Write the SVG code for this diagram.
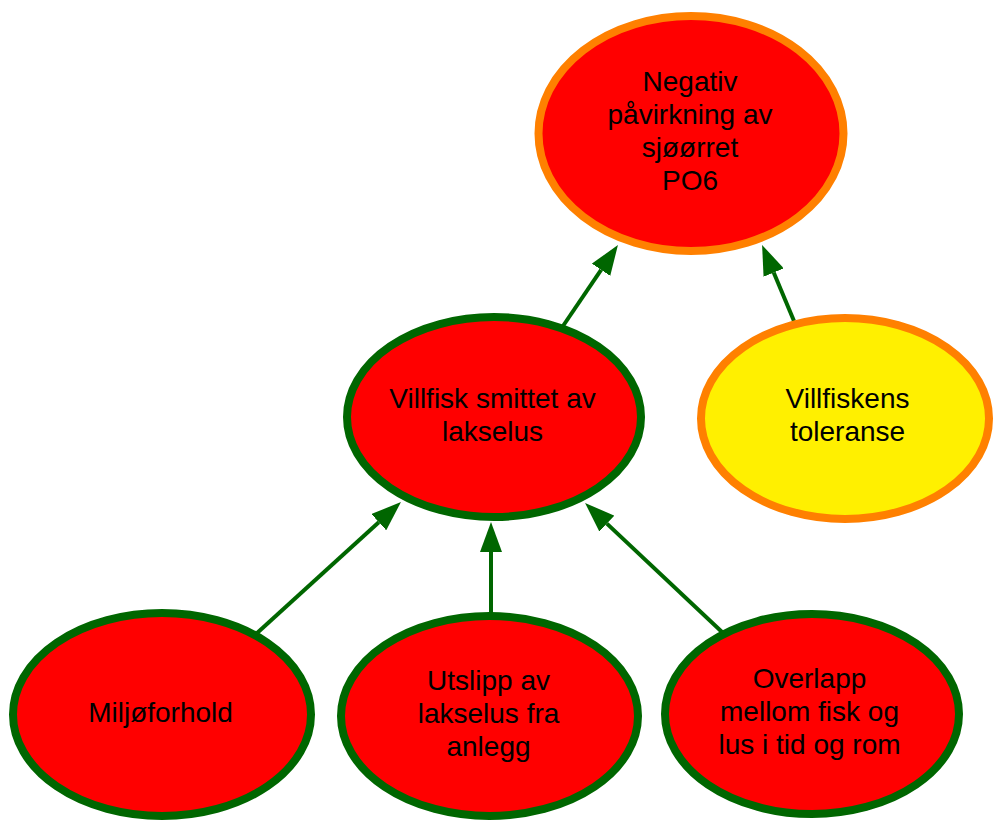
<svg xmlns="http://www.w3.org/2000/svg" width="995" height="821" viewBox="0 0 995 821">
<style>
.lbl{font-family:"Liberation Sans",Arial,sans-serif;font-size:28px;fill:#000;text-anchor:middle}
.red{fill:#FF0000}
.yel{fill:#FFF000}
.og{stroke:#FF8000;stroke-width:8}
.gr{stroke:#006600;stroke-width:8}
.edge{stroke:#006600;stroke-width:4;fill:none;marker-end:url(#ah)}
</style>
<defs>
<marker id="ah" viewBox="0 0 30 22" markerWidth="30" markerHeight="22" refX="0" refY="11" orient="auto" markerUnits="userSpaceOnUse">
<path d="M0,0 L30,11 L0,22 z" fill="#006600"/>
</marker>
</defs>
<rect width="995" height="821" fill="#fff"/>
<g id="connectors">
<line class="edge" x1="563" y1="326" x2="601.1" y2="269.8"/>
<line class="edge" x1="794" y1="321" x2="773.7" y2="272.6"/>
<line class="edge" x1="256" y1="634" x2="378.8" y2="522.2"/>
<line class="edge" x1="491" y1="615" x2="491" y2="552"/>
<line class="edge" x1="722" y1="632" x2="606.9" y2="523.6"/>
</g>
<g id="n_top">
<ellipse class="red og" cx="691" cy="133.5" rx="152.5" ry="117.5"/>
<text class="lbl" x="690" y="91">Negativ</text>
<text class="lbl" x="690" y="124">påvirkning av</text>
<text class="lbl" x="690" y="157">sjøørret</text>
<text class="lbl" x="690" y="190">PO6</text>
</g>
<g id="n_smittet">
<ellipse class="red gr" cx="494" cy="417" rx="147" ry="100"/>
<text class="lbl" x="492.5" y="408">Villfisk smittet av</text>
<text class="lbl" x="492.5" y="441">lakselus</text>
</g>
<g id="n_toleranse">
<ellipse class="yel og" cx="845" cy="418.5" rx="144" ry="100.5"/>
<text class="lbl" x="847.5" y="408">Villfiskens</text>
<text class="lbl" x="847.5" y="441">toleranse</text>
</g>
<g id="n_miljo">
<ellipse class="red gr" cx="162" cy="714.5" rx="149" ry="101.5"/>
<text class="lbl" x="160.5" y="722">Miljøforhold</text>
</g>
<g id="n_utslipp">
<ellipse class="red gr" cx="489.5" cy="716" rx="148.5" ry="100"/>
<text class="lbl" x="488.5" y="690">Utslipp av</text>
<text class="lbl" x="488.5" y="723">lakselus fra</text>
<text class="lbl" x="488.5" y="756">anlegg</text>
</g>
<g id="n_overlapp">
<ellipse class="red gr" cx="812" cy="714" rx="147" ry="100"/>
<text class="lbl" x="809.5" y="688">Overlapp</text>
<text class="lbl" x="809.5" y="721">mellom fisk og</text>
<text class="lbl" x="809.5" y="754">lus i tid og rom</text>
</g>
</svg>
